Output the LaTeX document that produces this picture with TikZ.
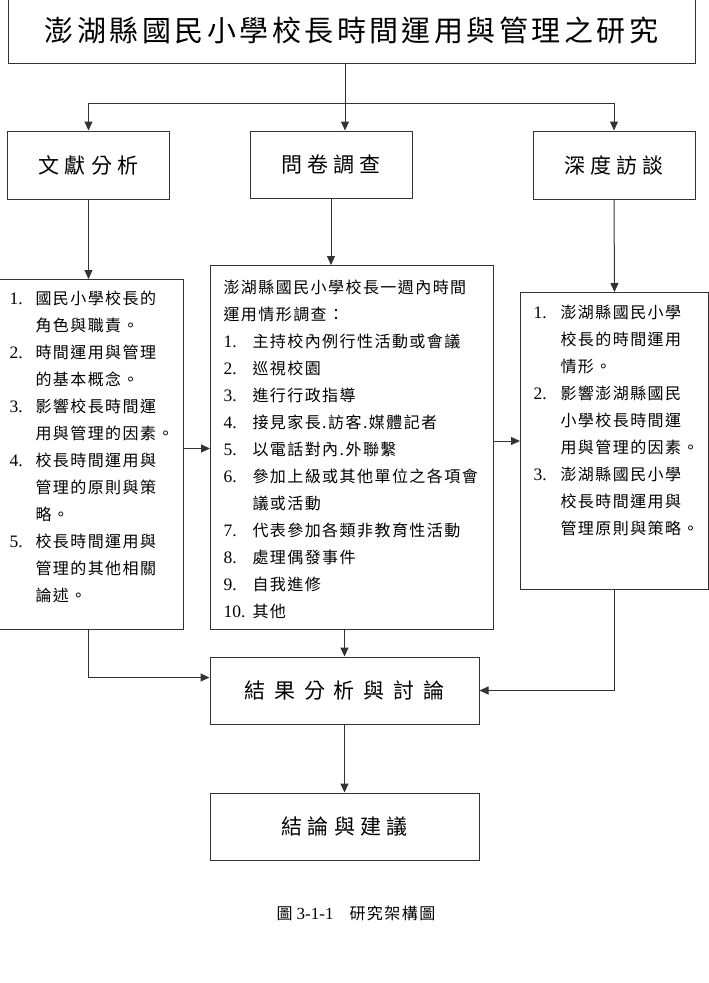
\documentclass[tikz,border=0pt]{standalone}
\usepackage{fontspec}
\setmainfont{Liberation Serif}
\newfontfamily\cjk[LetterSpace=9]{Noto Sans CJK TC}
\newfontfamily\cjkmid[LetterSpace=12]{Noto Sans CJK TC}
\newfontfamily\cjkwide[LetterSpace=25]{Noto Sans CJK TC}
\newfontfamily\cjkwider[LetterSpace=42]{Noto Sans CJK TC}
\usetikzlibrary{arrows.meta, positioning}
\newcommand{\nm}[1]{{\rmfamily\fontsize{17.5}{27}\selectfont #1.}}
\tikzset{
  boxframe/.style={draw=black!80, line width=1pt, inner sep=0pt, align=center},
  headbox/.style={boxframe, font=\cjkwide\fontsize{21}{25}\selectfont, minimum width=162pt, minimum height=68pt},
  listbox/.style={draw=black!80, line width=1pt, anchor=north west, inner ysep=0pt, font=\cjk\fontsize{16}{27}\selectfont},
  arrow/.style={-{Triangle[length=9pt, width=8pt]}, draw=black!80, line width=1pt},
  wire/.style={draw=black!80, line width=1pt}
}

\begin{document}
\begin{tikzpicture}[x=1pt, y=-1pt]
    \useasboundingbox (0,0) rectangle (709,983);
    \node[boxframe, minimum width=687pt, minimum height=65pt, font=\cjkmid\fontsize{29}{33}\selectfont] (title) at (351.5,30.5) {澎湖縣國民小學校長時間運用與管理之研究};

    \node[headbox] (lit) at (88.5,165) {文獻分析};
    \node[headbox, minimum height=67pt] (ques) at (331,164.5) {問卷調查};
    \node[headbox] (intv) at (614,165) {深度訪談};

    % the three lists
    \node[listbox, inner xsep=10pt, text width=164pt, text height=25pt, text depth=325pt] (litL) at (-1,279) {%
      \begin{tabular}[t]{@{}p{26pt}@{}l@{}}
        \nm{1} & 國民小學校長的\\
               & 角色與職責。\\
        \nm{2} & 時間運用與管理\\
               & 的基本概念。\\
        \nm{3} & 影響校長時間運\\
               & 用與管理的因素。\\
        \nm{4} & 校長時間運用與\\
               & 管理的原則與策\\
               & 略。\\
        \nm{5} & 校長時間運用與\\
               & 管理的其他相關\\
               & 論述。
      \end{tabular}};
    \node[listbox, inner xsep=13pt, text width=257pt, text height=28pt, text depth=336pt] (quesL) at (210,265) {%
      \begin{tabular}[t]{@{}p{29pt}@{}l@{}}
        \multicolumn{2}{@{}l@{}}{澎湖縣國民小學校長一週內時間}\\
        \multicolumn{2}{@{}l@{}}{運用情形調查：}\\
        \nm{1} & 主持校內例行性活動或會議\\
        \nm{2} & 巡視校園\\
        \nm{3} & 進行行政指導\\
        \nm{4} & 接見家長.訪客.媒體記者\\
        \nm{5} & 以電話對內.外聯繫\\
        \nm{6} & 參加上級或其他單位之各項會\\
               & 議或活動\\
        \nm{7} & 代表參加各類非教育性活動\\
        \nm{8} & 處理偶發事件\\
        \nm{9} & 自我進修\\
        \nm{10} & 其他
      \end{tabular}};
    \node[listbox, inner xsep=13pt, text width=162pt, text height=26pt, text depth=271pt] (intvL) at (520,292) {%
      \begin{tabular}[t]{@{}p{27pt}@{}l@{}}
        \nm{1} & 澎湖縣國民小學\\
               & 校長的時間運用\\
               & 情形。\\
        \nm{2} & 影響澎湖縣國民\\
               & 小學校長時間運\\
               & 用與管理的因素。\\
        \nm{3} & 澎湖縣國民小學\\
               & 校長時間運用與\\
               & 管理原則與策略。
      \end{tabular}};

    \node[headbox, minimum width=269pt, minimum height=67pt, font=\cjkwider\fontsize{21}{25}\selectfont] (res) at (344.5,690.5) {結果分析與討論};
    \node[headbox, minimum width=269pt, minimum height=67pt, below=68pt of res] (concl) {結論與建議};
    \node[font=\fontsize{16}{18}\selectfont] (cap) at (356,913) {{\cjk 圖} {\fontsize{17}{18}\selectfont 3-1-1}\hspace{16pt}{\cjk 研究架構圖}};

    % connectors
    \coordinate (split) at (345,103);
    \draw[arrow] (split |- title.south) -- (split |- ques.north);
    \draw[arrow] (split) -| (lit.north);
    \draw[arrow] (split) -| (intv.north);
    \draw[arrow] (lit.south) -- (lit.south |- litL.north);
    \draw[arrow] (ques.south) -- (ques.south |- quesL.north);
    \draw[arrow] (intv.south) -- (intvL.north);
    \draw[arrow] ([yshift=6pt]litL.east) -- ([yshift=6pt]litL.east -| quesL.west);
    \draw[arrow] (quesL.east |- intvL.west) -- (intvL.west);
    \draw[arrow] (lit.south |- litL.south) |- ([yshift=13pt]res.west);
    \draw[arrow] (res.north |- quesL.south) -- (res.north);
    \draw[arrow] (intvL.south) |- (res.east);
    \draw[arrow] (res.south) -- (concl.north);
\end{tikzpicture}
\end{document}
